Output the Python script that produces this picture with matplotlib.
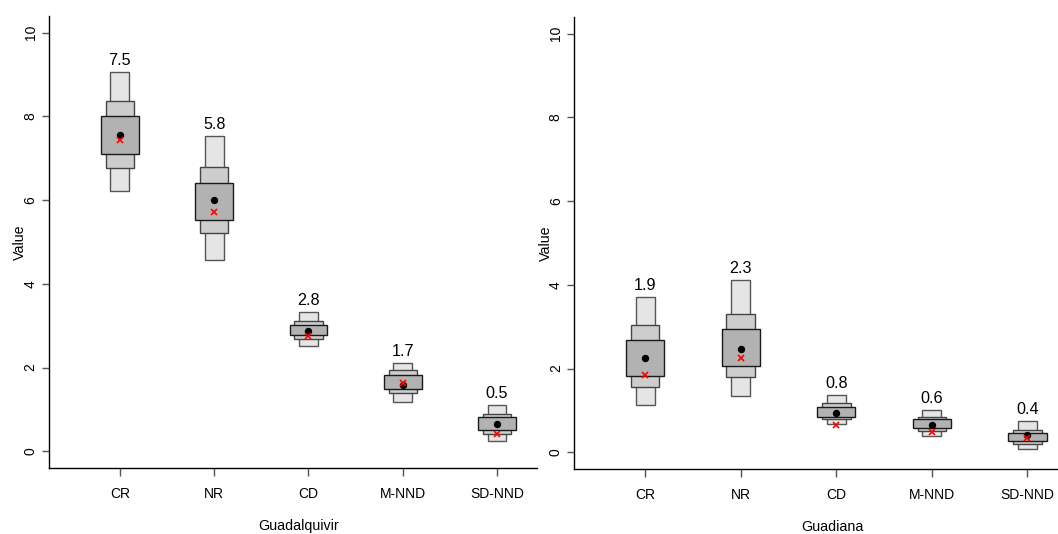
import numpy as np
import matplotlib
matplotlib.use("Agg")
import matplotlib.pyplot as plt

plt.rcParams['font.family'] = ['Liberation Sans', 'DejaVu Sans']

categories = ["CR", "NR", "CD", "M-NND", "SD-NND"]

# Guadalquivir
gq_outer_lo = [6.22, 4.56, 2.51, 1.17, 0.24]
gq_outer_hi = [9.06, 7.53, 3.32, 2.12, 1.10]
gq_mid_lo = [6.76, 5.22, 2.67, 1.38, 0.41]
gq_mid_hi = [8.36, 6.79, 3.10, 1.95, 0.90]
gq_inner_lo = [7.09, 5.52, 2.77, 1.49, 0.51]
gq_inner_hi = [8.02, 6.42, 3.01, 1.82, 0.81]
gq_median = [7.55, 6.00, 2.88, 1.59, 0.65]
gq_mean = [7.43, 5.71, 2.75, 1.64, 0.41]
gq_labels = ["7.5", "5.8", "2.8", "1.7", "0.5"]

# Guadiana
gd_outer_lo = [1.12, 1.34, 0.67, 0.40, 0.08]
gd_outer_hi = [3.72, 4.11, 1.36, 1.02, 0.74]
gd_mid_lo = [1.55, 1.79, 0.79, 0.51, 0.20]
gd_mid_hi = [3.03, 3.30, 1.17, 0.85, 0.54]
gd_inner_lo = [1.83, 2.06, 0.84, 0.57, 0.26]
gd_inner_hi = [2.68, 2.94, 1.07, 0.79, 0.46]
gd_median = [2.26, 2.47, 0.95, 0.65, 0.41]
gd_mean = [1.85, 2.25, 0.65, 0.49, 0.33]
gd_labels = ["1.9", "2.3", "0.8", "0.6", "0.4"]


def lv_panel(ax, outer, mid, inner, median, mean, labels, xlabel, xlim, label_x):
    x = np.arange(1, len(categories) + 1)
    levels = [(outer, 0.2, '#e5e5e5', '#555555'),
              (mid, 0.3, '#cdcdcd', '#444444'),
              (inner, 0.4, '#b2b2b2', '#1a1a1a')]
    for (lo, hi), w, fc, ec in levels:
        lo = np.array(lo)
        hi = np.array(hi)
        ax.bar(x, hi - lo, bottom=lo, width=w, color=fc, edgecolor=ec,
               linewidth=1.0, zorder=2)
    ax.plot(x, median, 'o', color='black', markersize=4.3, zorder=3)
    ax.plot(x, mean, 'x', color='red', markersize=5, mew=1.2, zorder=4)
    for xi, top, lab in zip(x, outer[1], labels):
        ax.annotate(lab, (xi, top), xytext=(0, 5), textcoords='offset points',
                    ha='center', va='baseline', fontsize=11.6)

    ax.set_xlim(*xlim)
    ax.set_ylim(-0.4, 10.4)
    ax.set_xticks(x)
    ax.set_xticklabels(categories, fontsize=10)
    ax.set_yticks([0, 2, 4, 6, 8, 10])
    ax.set_yticklabels(["0", "2", "4", "6", "8", "10"], fontsize=10,
                       rotation=90, va='center')
    ax.tick_params(axis='x', length=6, width=1, color='#555555', pad=7.5)
    ax.tick_params(axis='y', length=5, width=1, color='#555555', pad=3)
    for s in ['top', 'right']:
        ax.spines[s].set_visible(False)
    for s in ['left', 'bottom']:
        ax.spines[s].set_linewidth(1.0)
        ax.spines[s].set_color('black')
    ax.set_ylabel("Value", fontsize=10.3)
    ax.yaxis.set_label_coords(-0.044, 0.5)
    ax.set_xlabel(xlabel, fontsize=10.3)
    ax.xaxis.set_label_coords(label_x, -0.128)
    ax.xaxis.label.set_va('center')


fig = plt.figure(figsize=(10.58, 5.34), dpi=100)
ax1 = fig.add_axes([0.0460, 0.1236, 0.4612, 0.8466])
ax2 = fig.add_axes([0.5425, 0.1217, 0.4575, 0.8466])

lv_panel(ax1, (gq_outer_lo, gq_outer_hi), (gq_mid_lo, gq_mid_hi),
         (gq_inner_lo, gq_inner_hi), gq_median, gq_mean, gq_labels,
         "Guadalquivir", (0.245, 5.42), 0.512)
lv_panel(ax2, (gd_outer_lo, gd_outer_hi), (gd_mid_lo, gd_mid_hi),
         (gd_inner_lo, gd_inner_hi), gd_median, gd_mean, gd_labels,
         "Guadiana", (0.255, 5.32), 0.535)

fig.savefig("out.png", dpi=100)
